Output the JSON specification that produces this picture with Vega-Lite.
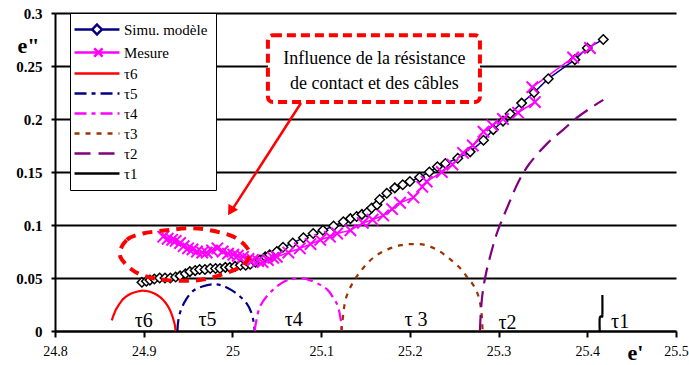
{
 "$schema": "https://vega.github.io/schema/vega-lite/v6.json",
 "width": 621,
 "height": 318,
 "autosize": "none",
 "padding": {"left": 55, "top": 13, "right": 13, "bottom": 34},
 "background": "white",
 "config": {
  "view": {"stroke": null},
  "font": "Liberation Serif, Times New Roman, Times, serif",
  "legend": {
   "orient": "none", "legendX": 15, "legendY": 0, "padding": 8,
   "fillColor": "white", "strokeColor": "black",
   "labelFont": "Liberation Serif, Times New Roman, Times, serif", "labelFontSize": 15, "labelColor": "black",
   "symbolSize": 196, "symbolStrokeWidth": 2.5, "labelOffset": 29, "rowPadding": 3
  }
 },
 "datasets": {
  "curves": [
   {"series":"τ6","i":0,"x":24.864,"y":0.010},{"series":"τ6","i":1,"x":24.868,"y":0.019},{"series":"τ6","i":2,"x":24.873,"y":0.026},{"series":"τ6","i":3,"x":24.878,"y":0.031},{"series":"τ6","i":4,"x":24.885,"y":0.035},{"series":"τ6","i":5,"x":24.892,"y":0.037},{"series":"τ6","i":6,"x":24.899,"y":0.038},{"series":"τ6","i":7,"x":24.907,"y":0.037},{"series":"τ6","i":8,"x":24.915,"y":0.034},{"series":"τ6","i":9,"x":24.921,"y":0.030},{"series":"τ6","i":10,"x":24.926,"y":0.025},{"series":"τ6","i":11,"x":24.930,"y":0.019},{"series":"τ6","i":12,"x":24.933,"y":0.012},{"series":"τ6","i":13,"x":24.935,"y":0.006},{"series":"τ6","i":14,"x":24.936,"y":0.0},
   {"series":"τ5","i":0,"x":24.938,"y":0.0},{"series":"τ5","i":1,"x":24.939,"y":0.010},{"series":"τ5","i":2,"x":24.942,"y":0.020},{"series":"τ5","i":3,"x":24.948,"y":0.030},{"series":"τ5","i":4,"x":24.956,"y":0.038},{"series":"τ5","i":5,"x":24.966,"y":0.042},{"series":"τ5","i":6,"x":24.977,"y":0.044},{"series":"τ5","i":7,"x":24.988,"y":0.043},{"series":"τ5","i":8,"x":24.998,"y":0.039},{"series":"τ5","i":9,"x":25.008,"y":0.033},{"series":"τ5","i":10,"x":25.016,"y":0.026},{"series":"τ5","i":11,"x":25.021,"y":0.018},{"series":"τ5","i":12,"x":25.024,"y":0.008},{"series":"τ5","i":13,"x":25.025,"y":0.0},
   {"series":"τ4","i":0,"x":25.025,"y":0.0},{"series":"τ4","i":1,"x":25.027,"y":0.010},{"series":"τ4","i":2,"x":25.031,"y":0.023},{"series":"τ4","i":3,"x":25.040,"y":0.034},{"series":"τ4","i":4,"x":25.050,"y":0.042},{"series":"τ4","i":5,"x":25.059,"y":0.047},{"series":"τ4","i":6,"x":25.068,"y":0.049},{"series":"τ4","i":7,"x":25.078,"y":0.050},{"series":"τ4","i":8,"x":25.087,"y":0.048},{"series":"τ4","i":9,"x":25.098,"y":0.044},{"series":"τ4","i":10,"x":25.107,"y":0.039},{"series":"τ4","i":11,"x":25.114,"y":0.031},{"series":"τ4","i":12,"x":25.119,"y":0.023},{"series":"τ4","i":13,"x":25.122,"y":0.011},{"series":"τ4","i":14,"x":25.123,"y":0.0},
   {"series":"τ3","i":0,"x":25.123,"y":0.0},{"series":"τ3","i":1,"x":25.125,"y":0.016},{"series":"τ3","i":2,"x":25.128,"y":0.031},{"series":"τ3","i":3,"x":25.136,"y":0.046},{"series":"τ3","i":4,"x":25.147,"y":0.059},{"series":"τ3","i":5,"x":25.160,"y":0.070},{"series":"τ3","i":6,"x":25.175,"y":0.077},{"series":"τ3","i":7,"x":25.190,"y":0.081},{"series":"τ3","i":8,"x":25.204,"y":0.082},{"series":"τ3","i":9,"x":25.218,"y":0.081},{"series":"τ3","i":10,"x":25.232,"y":0.076},{"series":"τ3","i":11,"x":25.245,"y":0.068},{"series":"τ3","i":12,"x":25.257,"y":0.059},{"series":"τ3","i":13,"x":25.266,"y":0.049},{"series":"τ3","i":14,"x":25.271,"y":0.044},{"series":"τ3","i":15,"x":25.276,"y":0.036},{"series":"τ3","i":16,"x":25.279,"y":0.027},{"series":"τ3","i":17,"x":25.281,"y":0.015},{"series":"τ3","i":18,"x":25.282,"y":0.0},
   {"series":"τ2","i":0,"x":25.279,"y":0.0},{"series":"τ2","i":1,"x":25.280,"y":0.018},{"series":"τ2","i":2,"x":25.282,"y":0.036},{"series":"τ2","i":3,"x":25.286,"y":0.055},{"series":"τ2","i":4,"x":25.292,"y":0.075},{"series":"τ2","i":5,"x":25.298,"y":0.092},{"series":"τ2","i":6,"x":25.304,"y":0.105},{"series":"τ2","i":7,"x":25.310,"y":0.117},{"series":"τ2","i":8,"x":25.322,"y":0.140},{"series":"τ2","i":9,"x":25.335,"y":0.158},{"series":"τ2","i":10,"x":25.355,"y":0.177},{"series":"τ2","i":11,"x":25.373,"y":0.190},{"series":"τ2","i":12,"x":25.388,"y":0.201},{"series":"τ2","i":13,"x":25.403,"y":0.210},{"series":"τ2","i":14,"x":25.418,"y":0.218},
   {"series":"τ1","i":0,"x":25.414,"y":0.0},{"series":"τ1","i":1,"x":25.414,"y":0.012},{"series":"τ1","i":2,"x":25.416,"y":0.014},{"series":"τ1","i":3,"x":25.417,"y":0.015},{"series":"τ1","i":4,"x":25.417,"y":0.034},
   {"series":"Simu. modèle","i":0,"x":24.898,"y":0.046},{"series":"Simu. modèle","i":1,"x":24.903,"y":0.047},{"series":"Simu. modèle","i":2,"x":24.907,"y":0.048},{"series":"Simu. modèle","i":3,"x":24.912,"y":0.049},{"series":"Simu. modèle","i":4,"x":24.918,"y":0.050},{"series":"Simu. modèle","i":5,"x":24.924,"y":0.050},{"series":"Simu. modèle","i":6,"x":24.930,"y":0.050},{"series":"Simu. modèle","i":7,"x":24.936,"y":0.051},{"series":"Simu. modèle","i":8,"x":24.941,"y":0.052},{"series":"Simu. modèle","i":9,"x":24.947,"y":0.054},{"series":"Simu. modèle","i":10,"x":24.952,"y":0.056},{"series":"Simu. modèle","i":11,"x":24.958,"y":0.057},{"series":"Simu. modèle","i":12,"x":24.963,"y":0.058},{"series":"Simu. modèle","i":13,"x":24.969,"y":0.058},{"series":"Simu. modèle","i":14,"x":24.975,"y":0.059},{"series":"Simu. modèle","i":15,"x":24.981,"y":0.059},{"series":"Simu. modèle","i":16,"x":24.986,"y":0.059},{"series":"Simu. modèle","i":17,"x":24.992,"y":0.060},{"series":"Simu. modèle","i":18,"x":24.997,"y":0.060},{"series":"Simu. modèle","i":19,"x":25.003,"y":0.061},{"series":"Simu. modèle","i":20,"x":25.009,"y":0.062},{"series":"Simu. modèle","i":21,"x":25.015,"y":0.062},{"series":"Simu. modèle","i":22,"x":25.020,"y":0.063},{"series":"Simu. modèle","i":23,"x":25.026,"y":0.065},{"series":"Simu. modèle","i":24,"x":25.031,"y":0.067},{"series":"Simu. modèle","i":25,"x":25.037,"y":0.070},{"series":"Simu. modèle","i":26,"x":25.042,"y":0.072},{"series":"Simu. modèle","i":27,"x":25.050,"y":0.075},{"series":"Simu. modèle","i":28,"x":25.057,"y":0.079},{"series":"Simu. modèle","i":29,"x":25.068,"y":0.083},{"series":"Simu. modèle","i":30,"x":25.080,"y":0.088},{"series":"Simu. modèle","i":31,"x":25.091,"y":0.092},{"series":"Simu. modèle","i":32,"x":25.102,"y":0.095},{"series":"Simu. modèle","i":33,"x":25.114,"y":0.099},{"series":"Simu. modèle","i":34,"x":25.125,"y":0.103},{"series":"Simu. modèle","i":35,"x":25.133,"y":0.106},{"series":"Simu. modèle","i":36,"x":25.140,"y":0.108},{"series":"Simu. modèle","i":37,"x":25.146,"y":0.110},{"series":"Simu. modèle","i":38,"x":25.152,"y":0.112},{"series":"Simu. modèle","i":39,"x":25.157,"y":0.116},{"series":"Simu. modèle","i":40,"x":25.163,"y":0.119},{"series":"Simu. modèle","i":41,"x":25.166,"y":0.124},{"series":"Simu. modèle","i":42,"x":25.174,"y":0.130},{"series":"Simu. modèle","i":43,"x":25.183,"y":0.135},{"series":"Simu. modèle","i":44,"x":25.192,"y":0.138},{"series":"Simu. modèle","i":45,"x":25.200,"y":0.141},{"series":"Simu. modèle","i":46,"x":25.211,"y":0.145},{"series":"Simu. modèle","i":47,"x":25.222,"y":0.150},{"series":"Simu. modèle","i":48,"x":25.231,"y":0.155},{"series":"Simu. modèle","i":49,"x":25.240,"y":0.158},{"series":"Simu. modèle","i":50,"x":25.254,"y":0.163},{"series":"Simu. modèle","i":51,"x":25.268,"y":0.169},{"series":"Simu. modèle","i":52,"x":25.283,"y":0.180},{"series":"Simu. modèle","i":53,"x":25.294,"y":0.190},{"series":"Simu. modèle","i":54,"x":25.305,"y":0.198},{"series":"Simu. modèle","i":55,"x":25.313,"y":0.205},{"series":"Simu. modèle","i":56,"x":25.326,"y":0.215},{"series":"Simu. modèle","i":57,"x":25.340,"y":0.225},{"series":"Simu. modèle","i":58,"x":25.356,"y":0.238},{"series":"Simu. modèle","i":59,"x":25.386,"y":0.256},{"series":"Simu. modèle","i":60,"x":25.400,"y":0.267},{"series":"Simu. modèle","i":61,"x":25.418,"y":0.275},
   {"series":"Mesure","i":0,"x":24.922,"y":0.089},{"series":"Mesure","i":1,"x":24.927,"y":0.087},{"series":"Mesure","i":2,"x":24.932,"y":0.086},{"series":"Mesure","i":3,"x":24.936,"y":0.085},{"series":"Mesure","i":4,"x":24.941,"y":0.083},{"series":"Mesure","i":5,"x":24.945,"y":0.080},{"series":"Mesure","i":6,"x":24.950,"y":0.078},{"series":"Mesure","i":7,"x":24.955,"y":0.077},{"series":"Mesure","i":8,"x":24.960,"y":0.075},{"series":"Mesure","i":9,"x":24.966,"y":0.074},{"series":"Mesure","i":10,"x":24.971,"y":0.074},{"series":"Mesure","i":11,"x":24.977,"y":0.076},{"series":"Mesure","i":12,"x":24.983,"y":0.078},{"series":"Mesure","i":13,"x":24.989,"y":0.075},{"series":"Mesure","i":14,"x":24.995,"y":0.073},{"series":"Mesure","i":15,"x":25.001,"y":0.072},{"series":"Mesure","i":16,"x":25.006,"y":0.071},{"series":"Mesure","i":17,"x":25.012,"y":0.070},{"series":"Mesure","i":18,"x":25.018,"y":0.068},{"series":"Mesure","i":19,"x":25.023,"y":0.067},{"series":"Mesure","i":20,"x":25.029,"y":0.066},{"series":"Mesure","i":21,"x":25.034,"y":0.065},{"series":"Mesure","i":22,"x":25.040,"y":0.067},{"series":"Mesure","i":23,"x":25.046,"y":0.069},{"series":"Mesure","i":24,"x":25.050,"y":0.070},{"series":"Mesure","i":25,"x":25.063,"y":0.074},{"series":"Mesure","i":26,"x":25.076,"y":0.078},{"series":"Mesure","i":27,"x":25.088,"y":0.082},{"series":"Mesure","i":28,"x":25.099,"y":0.086},{"series":"Mesure","i":29,"x":25.110,"y":0.089},{"series":"Mesure","i":30,"x":25.118,"y":0.092},{"series":"Mesure","i":31,"x":25.133,"y":0.095},{"series":"Mesure","i":32,"x":25.147,"y":0.102},{"series":"Mesure","i":33,"x":25.158,"y":0.105},{"series":"Mesure","i":34,"x":25.170,"y":0.109},{"series":"Mesure","i":35,"x":25.180,"y":0.115},{"series":"Mesure","i":36,"x":25.189,"y":0.121},{"series":"Mesure","i":37,"x":25.204,"y":0.126},{"series":"Mesure","i":38,"x":25.214,"y":0.136},{"series":"Mesure","i":39,"x":25.219,"y":0.141},{"series":"Mesure","i":40,"x":25.236,"y":0.150},{"series":"Mesure","i":41,"x":25.248,"y":0.157},{"series":"Mesure","i":42,"x":25.260,"y":0.168},{"series":"Mesure","i":43,"x":25.271,"y":0.175},{"series":"Mesure","i":44,"x":25.283,"y":0.188},{"series":"Mesure","i":45,"x":25.293,"y":0.194},{"series":"Mesure","i":46,"x":25.305,"y":0.200},{"series":"Mesure","i":47,"x":25.322,"y":0.206},{"series":"Mesure","i":48,"x":25.341,"y":0.216},{"series":"Mesure","i":49,"x":25.338,"y":0.230},{"series":"Mesure","i":50,"x":25.384,"y":0.258},{"series":"Mesure","i":51,"x":25.403,"y":0.267}
  ],
  "ellipse": [
   {"i":0,"x":24.873,"y":0.072},{"i":1,"x":24.881,"y":0.086},{"i":2,"x":24.899,"y":0.092},{"i":3,"x":24.926,"y":0.095},{"i":4,"x":24.952,"y":0.097},{"i":5,"x":24.975,"y":0.095},{"i":6,"x":25.001,"y":0.089},{"i":7,"x":25.016,"y":0.079},{"i":8,"x":25.019,"y":0.071},{"i":9,"x":25.012,"y":0.062},{"i":10,"x":24.994,"y":0.055},{"i":11,"x":24.963,"y":0.048},{"i":12,"x":24.926,"y":0.048},{"i":13,"x":24.901,"y":0.052},{"i":14,"x":24.885,"y":0.059}
  ],
  "taus": [
   {"label":"τ6","x":24.900,"y":0.0095},{"label":"τ5","x":24.972,"y":0.010},{"label":"τ4","x":25.069,"y":0.010},{"label":"τ 3","x":25.207,"y":0.010},{"label":"τ2","x":25.310,"y":0.0075},{"label":"τ1","x":25.437,"y":0.0085}
  ]
 },
 "layer": [
  {"data": {"name": "curves"},
   "transform": [{"filter": "datum.series !== 'Simu. modèle' && datum.series !== 'Mesure'"}],
   "mark": {"type": "line", "strokeWidth": 2.2, "interpolate": "cardinal"},
   "encoding": {
    "x": {"field": "x", "type": "quantitative",
     "scale": {"domain": [24.8, 25.5], "nice": false, "zero": false},
     "axis": {"title": "e'", "values": [24.8, 24.9, 25, 25.1, 25.2, 25.3, 25.4, 25.5], "format": ".1~f", "grid": false,
      "domainColor": "black", "domainWidth": 2, "tickColor": "black", "tickWidth": 2, "tickSize": 6,
      "labelFont": "Liberation Serif, Times New Roman, Times, serif", "labelFontSize": 14, "labelColor": "black", "labelPadding": 7, "labelFlush": false, "labelOverlap": false,
      "titleFont": "Liberation Serif, Times New Roman, Times, serif", "titleFontSize": 22, "titleFontWeight": "bold", "titleColor": "black",
      "titleX": 580, "titleY": 21, "titleAlign": "center", "titleBaseline": "middle"}},
    "y": {"field": "y", "type": "quantitative",
     "scale": {"domain": [0, 0.3], "nice": false, "zero": false},
     "axis": {"title": "e\"", "values": [0, 0.05, 0.1, 0.15, 0.2, 0.25, 0.3], "format": ".2~f", "grid": true,
      "gridColor": "black", "gridWidth": 2, "gridOpacity": 1,
      "domainColor": "black", "domainWidth": 2, "tickColor": "black", "tickWidth": 2, "tickSize": 4,
      "labelFont": "Liberation Serif, Times New Roman, Times, serif", "labelFontSize": 15, "labelFontWeight": "bold", "labelColor": "black", "labelPadding": 9, "labelOverlap": false,
      "titleFont": "Liberation Serif, Times New Roman, Times, serif", "titleFontSize": 22, "titleFontWeight": "bold", "titleColor": "black",
      "titleAngle": 0, "titleX": -27, "titleY": 32, "titleAlign": "center", "titleBaseline": "middle"}},
    "color": {"field": "series", "type": "nominal", "scale": {"domain": ["Simu. modèle","Mesure","τ6","τ5","τ4","τ3","τ2","τ1"], "range": ["#000080","#FF00FF","#FF0000","#000080","#FF00FF","#993300","#800080","#000000"]}, "legend": {"title": null}},
    "strokeDash": {"field": "series", "type": "nominal", "scale": {"domain": ["Simu. modèle","Mesure","τ6","τ5","τ4","τ3","τ2","τ1"], "range": [[1,0],[1,0],[1,0],[12,5,4,5],[12,5,4,5],[5,6],[16,8],[1,0]]}, "legend": {"title": null}},
    "order": {"field": "i", "type": "quantitative"}}},
  {"data": {"values": [{}]},
   "mark": {"type": "rect", "fill": "white", "stroke": "#FF0000", "strokeWidth": 4, "strokeDash": [9, 5], "cornerRadius": 5},
   "encoding": {"x": {"datum": 25.040}, "x2": {"datum": 25.279}, "y": {"datum": 0.279}, "y2": {"datum": 0.216}}},
  {"data": {"values": [{}]},
   "mark": {"type": "text", "text": ["Influence de la résistance", "de contact et des câbles"], "font": "Liberation Serif, Times New Roman, Times, serif", "fontSize": 18, "color": "black", "align": "center", "baseline": "middle", "lineHeight": 25},
   "encoding": {"x": {"datum": 25.160}, "y": {"datum": 0.2566}}},
  {"data": {"name": "curves"},
   "transform": [{"filter": "datum.series === 'Simu. modèle' || datum.series === 'Mesure'"}],
   "mark": {"type": "line", "strokeWidth": 1.5},
   "encoding": {
    "x": {"field": "x", "type": "quantitative"},
    "y": {"field": "y", "type": "quantitative"},
    "color": {"field": "series", "type": "nominal", "scale": {"domain": ["Simu. modèle","Mesure","τ6","τ5","τ4","τ3","τ2","τ1"], "range": ["#000080","#FF00FF","#FF0000","#000080","#FF00FF","#993300","#800080","#000000"]}, "legend": {"title": null}},
    "strokeDash": {"field": "series", "type": "nominal", "scale": {"domain": ["Simu. modèle","Mesure","τ6","τ5","τ4","τ3","τ2","τ1"], "range": [[1,0],[1,0],[1,0],[12,5,4,5],[12,5,4,5],[5,6],[16,8],[1,0]]}, "legend": {"title": null}},
    "order": {"field": "i", "type": "quantitative"}}},
  {"data": {"name": "curves"},
   "transform": [{"filter": "datum.series === 'Simu. modèle'"}],
   "mark": {"type": "point", "shape": "diamond", "filled": true, "fill": "white", "stroke": "black", "strokeWidth": 1.5, "size": 90, "opacity": 1},
   "encoding": {"x": {"field": "x", "type": "quantitative"}, "y": {"field": "y", "type": "quantitative"}}},
  {"data": {"name": "curves"},
   "transform": [{"filter": "datum.series === 'Mesure'"}],
   "mark": {"type": "point", "shape": "M-1,-1L1,1M-1,1L1,-1", "filled": false, "stroke": "#FF00FF", "strokeWidth": 2, "size": 130, "opacity": 1},
   "encoding": {"x": {"field": "x", "type": "quantitative"}, "y": {"field": "y", "type": "quantitative"}}},
  {"data": {"name": "ellipse"},
   "mark": {"type": "line", "stroke": "#FF0000", "strokeWidth": 4, "strokeDash": [10, 7], "interpolate": "cardinal-closed"},
   "encoding": {"x": {"field": "x", "type": "quantitative"}, "y": {"field": "y", "type": "quantitative"}, "order": {"field": "i", "type": "quantitative"}}},
  {"data": {"values": [{}]},
   "mark": {"type": "rule", "stroke": "#FF0000", "strokeWidth": 2.5},
   "encoding": {"x": {"datum": 25.0773}, "y": {"datum": 0.2151}, "x2": {"datum": 24.999}, "y2": {"datum": 0.1135}}},
  {"data": {"values": [{}]},
   "mark": {"type": "point", "shape": "triangle-up", "filled": true, "fill": "#FF0000", "strokeWidth": 0, "size": 130, "angle": 212, "opacity": 1},
   "encoding": {"x": {"datum": 24.998}, "y": {"datum": 0.1132}}},
  {"data": {"name": "taus"},
   "mark": {"type": "text", "font": "Liberation Serif, Times New Roman, Times, serif", "fontSize": 20, "color": "black", "align": "center", "baseline": "middle"},
   "encoding": {"x": {"field": "x", "type": "quantitative"}, "y": {"field": "y", "type": "quantitative"}, "text": {"field": "label"}}},
  {"data": {"values": []},
   "mark": {"type": "point", "filled": false, "opacity": 1},
   "encoding": {
    "x": {"field": "x", "type": "quantitative"},
    "y": {"field": "y", "type": "quantitative"},
    "color": {"field": "series", "type": "nominal", "scale": {"domain": ["Simu. modèle","Mesure","τ6","τ5","τ4","τ3","τ2","τ1"], "range": ["#000080","#FF00FF","#FF0000","#000080","#FF00FF","#993300","#800080","#000000"]},
     "legend": {"title": null, "encode": {"legend": {"update": {"strokeWidth": {"value": 1.5}}}}}},
    "strokeDash": {"field": "series", "type": "nominal", "scale": {"domain": ["Simu. modèle","Mesure","τ6","τ5","τ4","τ3","τ2","τ1"], "range": [[1,0],[1,0],[1,0],[12,5,4,5],[12,5,4,5],[5,6],[16,8],[1,0]]}, "legend": {"title": null}},
    "shape": {"field": "series", "type": "nominal", "scale": {"domain": ["Simu. modèle","Mesure","τ6","τ5","τ4","τ3","τ2","τ1"],
     "range": ["M-1.71,0L0.8,0M2.2,0L4.71,0M0.8,0L1.5,-0.7L2.2,0L1.5,0.7Z", "M-1.71,0L4.71,0M1.1,-0.6L2.3,0.6M1.1,0.6L2.3,-0.6", "M-1.71,0L4.71,0", "M-1.71,0L4.71,0", "M-1.71,0L4.71,0", "M-1.71,0L4.71,0", "M-1.71,0L4.71,0", "M-1.71,0L4.71,0"]}, "legend": {"title": null}}}}
 ]
}
